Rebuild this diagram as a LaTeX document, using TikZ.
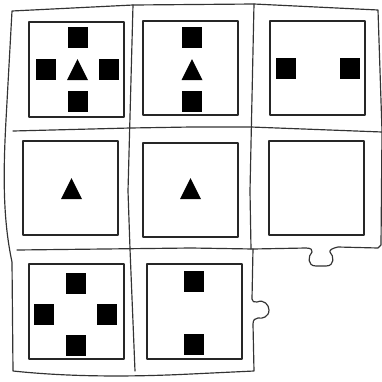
\documentclass[tikz,border=0pt]{standalone}
\usepackage{tikz}
\tikzset{
  puzzle/.style={
    x=0.03cm, y=-0.03cm,
    line cap = round, line join = round,
  },
  edge/.style={draw=black!80, line width=1pt},
  frame/.style={draw=black!85, line width=1.1pt},
}
\newcommand{\blk}[2]{% \blk{x}{y}, centre of a black square
  \fill (#1-10,#2-10.5) rectangle (#1+10,#2+10.5);
}
\newcommand{\tri}[2]{% \tri{x}{y}, centre of a black triangle
  \fill (#1,#2-10.5) -- (#1+10.5,#2+10.5) -- (#1-10.5,#2+10.5) -- cycle;
}
\newcommand{\card}[4]{% \card{x1}{y1}{x2}{y2}
  \draw[frame] (#1,#2) rectangle (#3,#4);
}
\begin{document}
\begin{tikzpicture}[puzzle]
  \useasboundingbox (0,0) rectangle (382,381);
  % outline of the pieces
  \draw[edge] (12,11) -- (133,5) -- (254,4) -- (378,10) -- (382,131) -- (381,245)
    -- (378,248) -- (338,247)
    .. controls (333,248) and (329,250) .. (330,252)
    .. controls (334,256) and (335,266) .. (326,266) -- (316,266)
    .. controls (307,266) and (308,256) .. (312,252)
    .. controls (313,250) and (311,248) .. (306,248)
    -- (253,249) -- (252,299)
    .. controls (252,302) and (254,302) .. (257,302)
    .. controls (264,299) and (269,305) .. (269,310)
    .. controls (269,317) and (262,319) .. (258,318)
    .. controls (255,318) and (253,320) .. (253,324)
    -- (254,371) -- (191,374) .. controls (130,377) and (70,377) .. (13,371)
    -- (12,262) .. controls (3,220) and (3,175) .. (6,120) -- cycle;
  \draw[edge] (133,5) -- (128,191) -- (130,249) -- (135,371);
  \draw[edge] (254,4) -- (250,191) -- (251,249);
  \draw[edge] (13,131) -- (130,128) -- (191,127) -- (251,127) -- (382,132);
  \draw[edge] (17,250) -- (191,248) -- (253,249);
  % cards
  \card{29}{22}{124}{117}
  \card{143}{21}{238}{115}
  \card{270}{21}{365}{115}
  \card{23}{141}{118}{235}
  \card{143}{143}{238}{237}
  \card{269}{141}{364}{235}
  \card{29}{264}{124}{359}
  \card{147}{264}{242}{359}
  % symbols
  \blk{77.5}{37.5} \blk{46}{69} \blk{109}{69} \blk{77.5}{101}
  \tri{77.5}{69.5}
  \blk{192}{37.5} \blk{192}{101}
  \tri{192}{69.5}
  \blk{286}{68} \blk{349.5}{68}
  \tri{71.5}{188.5}
  \tri{190.5}{188.5}
  \blk{76}{283} \blk{44}{314} \blk{107}{314} \blk{76}{345.5}
  \blk{193.5}{281} \blk{193.5}{344}
\end{tikzpicture}
\end{document}
